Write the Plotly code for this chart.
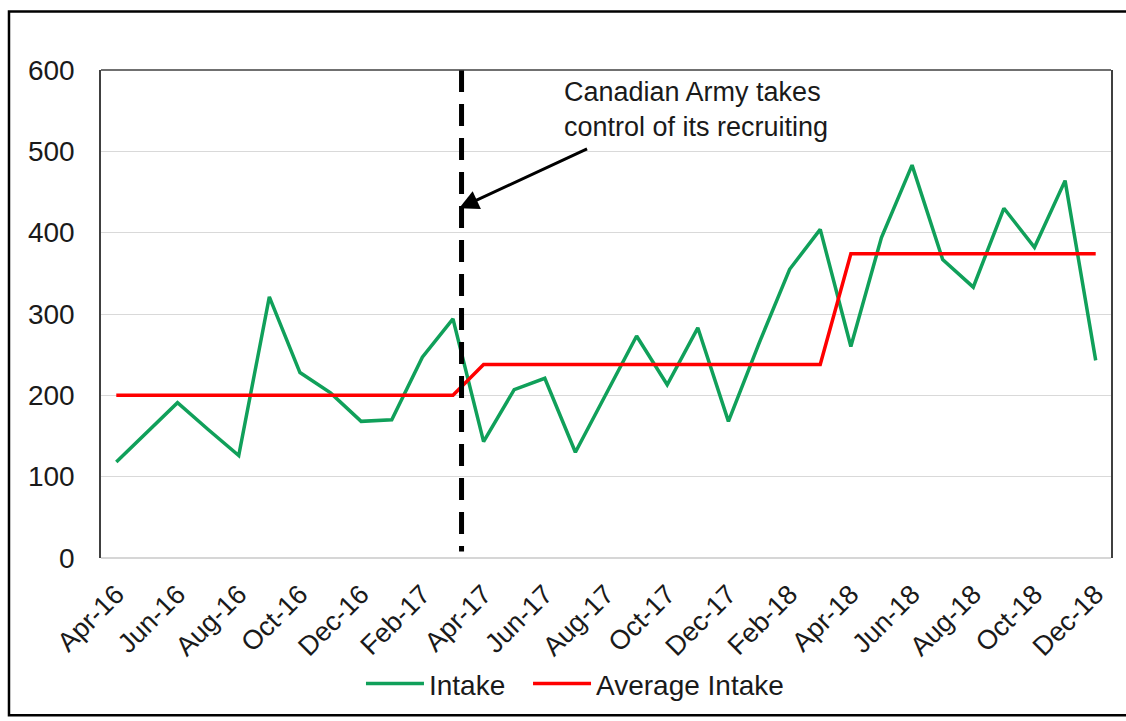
import plotly.graph_objects as go

months = ["Apr-16","May-16","Jun-16","Jul-16","Aug-16","Sep-16","Oct-16","Nov-16","Dec-16","Jan-17","Feb-17","Mar-17",
          "Apr-17","May-17","Jun-17","Jul-17","Aug-17","Sep-17","Oct-17","Nov-17","Dec-17","Jan-18","Feb-18","Mar-18",
          "Apr-18","May-18","Jun-18","Jul-18","Aug-18","Sep-18","Oct-18","Nov-18","Dec-18"]
intake = [118,154,191,158,126,321,228,203,168,170,247,294,
          143,207,221,130,201,273,213,283,168,264,355,404,
          260,394,483,367,333,430,382,464,243]
average_intake = [200]*12 + [238]*12 + [374]*9
tick_labels = months[::2]
y_ticks = [0,100,200,300,400,500,600]

FONT = "Arial, Liberation Sans, sans-serif"
TXT = "#1a1a1a"

fig = go.Figure()
fig.add_trace(go.Scatter(x=months, y=intake, mode="lines", name="Intake", legend="legend",
                         line=dict(color="#10A05A", width=3.5)))
fig.add_trace(go.Scatter(x=months, y=average_intake, mode="lines", name="Average Intake", legend="legend2",
                         line=dict(color="#FF0000", width=3.5)))

# dashed vertical marker
fig.add_shape(type="line", xref="x", yref="y", x0=11.28, x1=11.28, y0=600, y1=8,
              line=dict(color="black", width=5, dash="22px,12px"))
# top border of plot area
fig.add_shape(type="line", xref="paper", yref="paper", x0=0, x1=1, y0=1, y1=1,
              line=dict(color="#404040", width=1.5))
# bottom (zero) line
fig.add_shape(type="line", xref="paper", yref="paper", x0=0, x1=1, y0=0, y1=0,
              line=dict(color="#c8c8c8", width=1.5), layer="below")
# outer frame
fig.add_shape(type="rect", xref="paper", yref="paper", x0=-0.0911, x1=1.05, y0=-0.322, y1=1.1197,
              line=dict(color="black", width=2.5))

fig.add_annotation(x=11.2, y=430, xref="x", yref="y", ax=15.43, ay=504, axref="x", ayref="y",
                   text="", showarrow=True, arrowhead=2, arrowsize=1.3, arrowwidth=3, arrowcolor="black")
fig.add_annotation(x=14.55, y=551, xref="x", yref="y",
                   text="Canadian Army takes<br>control of its recruiting",
                   showarrow=False, xanchor="left", yanchor="middle", align="left",
                   font=dict(family=FONT, size=27, color=TXT))

legend_common = dict(orientation="h", xanchor="left", y=-0.258, yanchor="middle",
                     font=dict(family=FONT, size=28, color=TXT), itemwidth=58,
                     bgcolor="rgba(0,0,0,0)")

fig.update_layout(
    width=1126, height=721,
    margin=dict(l=101, r=15, t=70, b=158),
    paper_bgcolor="white", plot_bgcolor="white",
    font=dict(family=FONT, color=TXT),
    showlegend=True,
    legend=dict(x=0.2574, **legend_common),
    legend2=dict(x=0.4228, **legend_common),
    xaxis=dict(type="category", range=[-0.5, 32.5], tickmode="array", tickvals=tick_labels,
               ticktext=tick_labels, tickangle=-45, showgrid=False, showline=False, zeroline=False,
               ticks="", ticklabelstandoff=14, tickfont=dict(family=FONT, size=27, color=TXT)),
    yaxis=dict(range=[0, 600], tickvals=y_ticks, showgrid=True, gridcolor="#d9d9d9", gridwidth=1,
               zeroline=False, showline=True, mirror=True, linecolor="#404040", linewidth=1.5,
               ticks="", ticklabelstandoff=19, tickfont=dict(family=FONT, size=28, color=TXT)),
)

fig.write_html("out.html")
